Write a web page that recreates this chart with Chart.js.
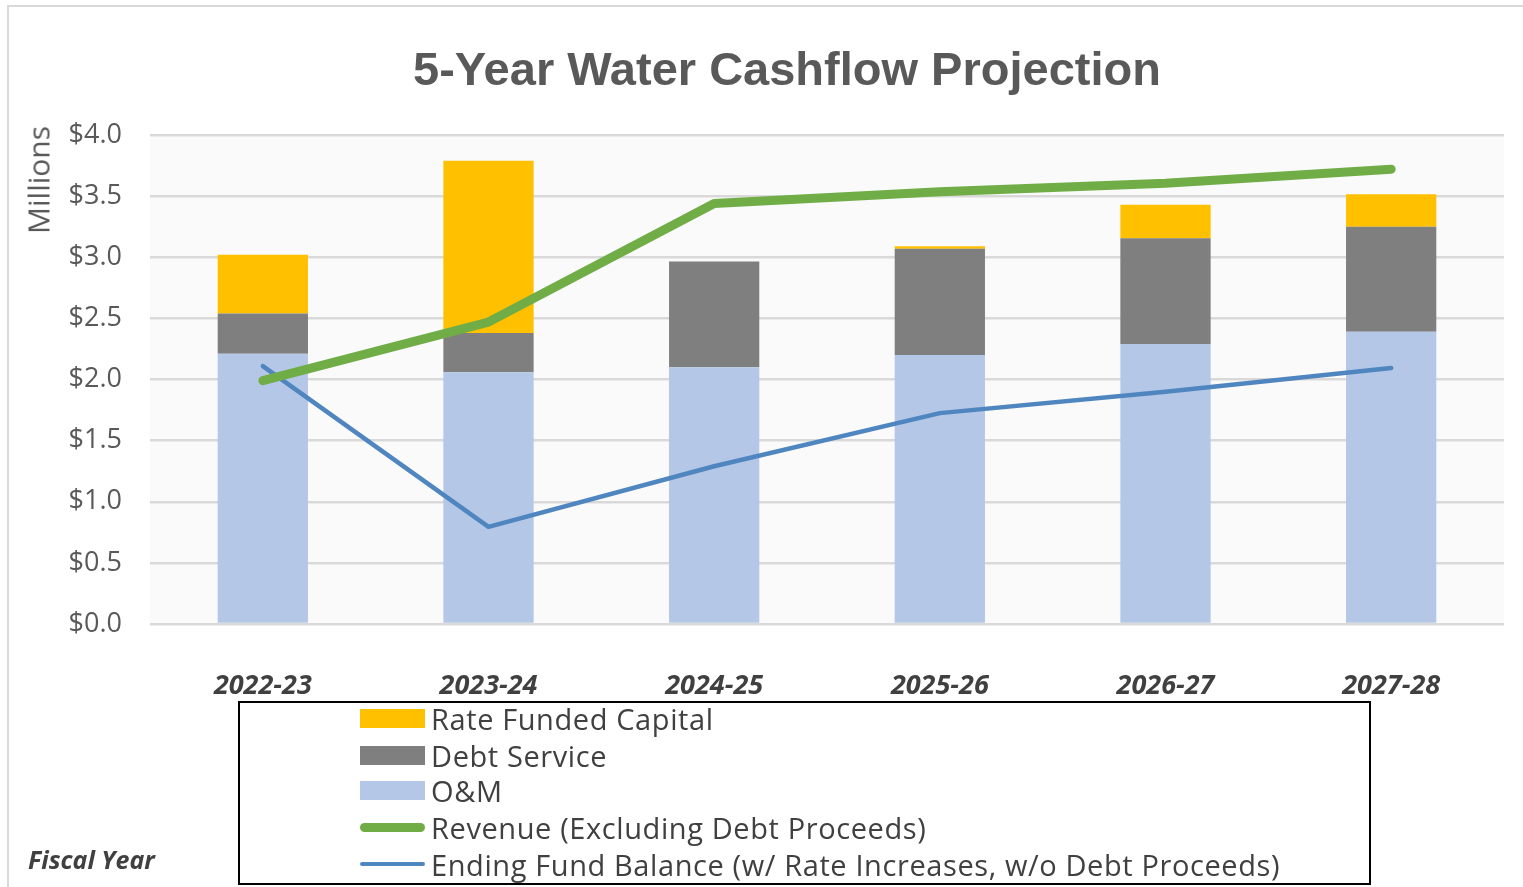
<!DOCTYPE html>
<html>
<head>
<meta charset="utf-8">
<script src="https://cdn.jsdelivr.net/npm/chart.js@4/dist/chart.umd.min.js"></script>
<style>
  html, body { margin:0; padding:0; background:#fff; }
  #wrap { position:relative; width:1523px; height:887px; overflow:hidden; font-family:'Open Sans', sans-serif; }
  #frame { position:absolute; left:7px; top:5px; width:1530px; height:900px; border-left:2px solid #d9d9d9; border-top:2px solid #d9d9d9; }
  #title { position:absolute; left:0; width:1574px; top:41px; text-align:center; font-family:'Liberation Sans', Arial, sans-serif; font-weight:bold; font-size:47px; color:#595959; }
  #units { position:absolute; left:38px; top:180px; transform:translate(-50%,-50%) rotate(-90deg); font-size:30px; color:#595959; white-space:nowrap; }
  #xtitle { position:absolute; left:28px; top:842px; font-size:25px; font-weight:bold; font-style:italic; color:#404040; }
  #legend { position:absolute; left:238px; top:701px; width:1129px; height:180px; border:2px solid #000; box-sizing:content-box; }
  .item { position:absolute; left:120px; height:36px; display:flex; align-items:center; font-size:29px; letter-spacing:0.6px; color:#404040; white-space:nowrap; }
  .sw { width:65px; margin-right:6px; }
  canvas { position:absolute; left:0; top:0; }
</style>
</head>
<body>
<div id="wrap">
  <div id="frame"></div>
  <canvas id="chart" width="1523" height="887"></canvas>
  <div id="title">5-Year Water Cashflow Projection</div>
  <div id="units">Millions</div>
  <div id="xtitle">Fiscal Year</div>
  <div id="legend"></div>
</div>
<script>
// values in $ millions
const years = ['2022-23', '2023-24', '2024-25', '2025-26', '2026-27', '2027-28'];
const oAndM = [2.21, 2.06, 2.10, 2.20, 2.29, 2.39];
const debtService = [0.33, 0.32, 0.865, 0.87, 0.865, 0.86];
const rateFundedCapital = [0.48, 1.41, 0, 0.02, 0.275, 0.265];
const revenue = [1.99, 2.47, 3.44, 3.535, 3.605, 3.72];
const endingBalance = [2.11, 0.795, 1.29, 1.725, 1.90, 2.094];
const yTicks = [0, 0.5, 1.0, 1.5, 2.0, 2.5, 3.0, 3.5, 4.0];

const colors = { capital:'#ffc000', debt:'#7f7f7f', om:'#b4c7e7', revenue:'#70ad47', balance:'#4f86c0' };

const plotBg = {
  id:'plotBg',
  beforeDraw(chart){
    const {ctx, chartArea:a} = chart;
    ctx.save();
    ctx.fillStyle = '#fafafa';
    ctx.fillRect(a.left, a.top, a.right - a.left, a.bottom - a.top);
    ctx.restore();
  }
};

const barStyle = { categoryPercentage:1, barPercentage:0.4, stack:'costs', order:2 };

new Chart(document.getElementById('chart').getContext('2d'), {
  type:'bar',
  data:{
    labels: years,
    datasets:[
      { label:'O&M', data:oAndM, backgroundColor:colors.om, ...barStyle },
      { label:'Debt Service', data:debtService, backgroundColor:colors.debt, ...barStyle },
      { label:'Rate Funded Capital', data:rateFundedCapital, backgroundColor:colors.capital, ...barStyle },
      { type:'line', label:'Revenue (Excluding Debt Proceeds)', data:revenue, borderColor:colors.revenue, backgroundColor:colors.revenue,
        borderWidth:9, borderCapStyle:'round', borderJoinStyle:'round', pointRadius:0, stack:'rev', order:0 },
      { type:'line', label:'Ending Fund Balance (w/ Rate Increases, w/o Debt Proceeds)', data:endingBalance, borderColor:colors.balance, backgroundColor:colors.balance,
        borderWidth:4.5, borderCapStyle:'round', borderJoinStyle:'round', pointRadius:0, stack:'bal', order:1 }
    ]
  },
  options:{
    responsive:false,
    animation:false,
    layout:{ padding:{ top:135, right:19, left:0, bottom:0 } },
    plugins:{ legend:{ display:false }, title:{ display:false }, tooltip:{ enabled:false } },
    scales:{
      x:{
        stacked:true,
        grid:{ display:false },
        border:{ display:false },
        ticks:{ color:'#404040', font:{ family:'Open Sans', size:27, weight:'bold', style:'italic' }, padding:38, maxRotation:0 },
        afterFit(s){ s.height = 263; }
      },
      y:{
        stacked:true,
        min:0, max:4,
        afterBuildTicks(s){ s.ticks = yTicks.map(v => ({ value:v })); },
        grid:{ color:'#d9d9d9', lineWidth:2.5, drawTicks:false },
        border:{ display:false },
        ticks:{ color:'#595959', font:{ family:'Open Sans', size:27 }, padding:28,
          callback:v => '$' + v.toFixed(1) },
        afterFit(s){ s.width = 150; }
      }
    }
  },
  plugins:[plotBg]
});

// legend box
const legendItems = [
  { label:'Rate Funded Capital', color:colors.capital, h:19 },
  { label:'Debt Service', color:colors.debt, h:19 },
  { label:'O&M', color:colors.om, h:19 },
  { label:'Revenue (Excluding Debt Proceeds)', color:colors.revenue, h:9, round:true },
  { label:'Ending Fund Balance (w/ Rate Increases, w/o Debt Proceeds)', color:colors.balance, h:4, round:true }
];
const legendTops = [-3, 34, 69, 106, 143];
document.getElementById('legend').innerHTML = legendItems.map((it, i) => `
  <div class="item" style="top:${legendTops[i]}px">
    <span class="sw" style="height:${it.h}px;background:${it.color};${it.round ? 'border-radius:5px;' : ''}"></span>${it.label}
  </div>`).join('');
</script>
</body>
</html>
